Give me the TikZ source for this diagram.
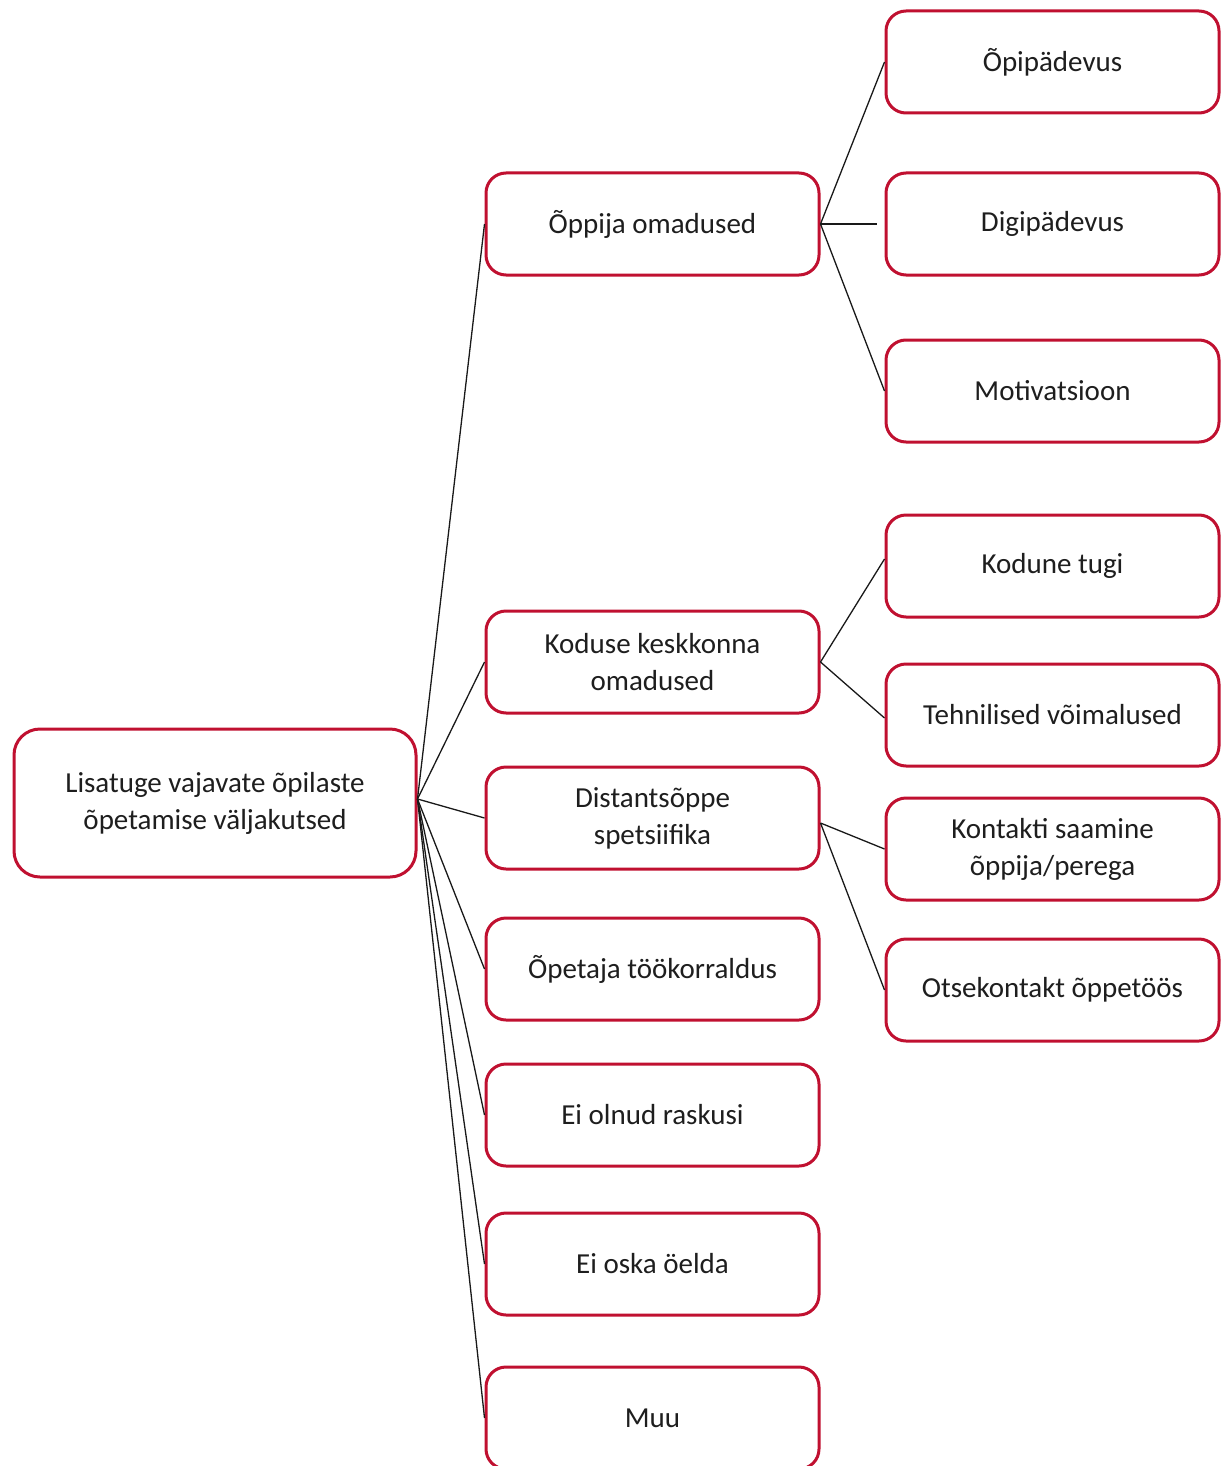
\documentclass[tikz,border=0pt]{standalone}
\usepackage{fontspec}
\setmainfont{Carlito}
\definecolor{boxred}{RGB}{192,16,48}
\definecolor{inktext}{RGB}{30,30,30}
\begin{document}
\begin{tikzpicture}[x=1pt,y=-1pt,
  box/.style={draw=boxred, line width=3pt, rounded corners=20pt, fill=white,
    minimum width=333pt, minimum height=102pt, align=center,
    font=\fontsize{29}{37}\selectfont, text=inktext, inner sep=0pt},
  rootbox/.style={box, minimum width=402pt, minimum height=148pt, rounded corners=26pt},
  link/.style={draw=black!90, line width=1.3pt}]
\useasboundingbox (0,0) rectangle (1224,1466);
% root
\node[rootbox] (root) at (215,803) {Lisatuge vajavate õpilaste\\õpetamise väljakutsed};
% middle column
\node[box] (m1) at (652.5,224) {Õppija omadused};
\node[box] (m2) at (652.5,662) {Koduse keskkonna\\omadused};
\node[box] (m3) at (652.5,818) {Distantsõppe\\spetsiifika};
\node[box] (m4) at (652.5,969) {Õpetaja töökorraldus};
\node[box] (m5) at (652.5,1115) {Ei olnud raskusi};
\node[box] (m6) at (652.5,1264) {Ei oska öelda};
\node[box] (m7) at (652.5,1418) {Muu};
% right column
\node[box] (r1) at (1052.5,62) {Õpipädevus};
\node[box] (r2) at (1052.5,224) {Digipädevus};
\node[box] (r3) at (1052.5,391) {Motivatsioon};
\node[box] (r4) at (1052.5,566) {Kodune tugi};
\node[box] (r5) at (1052.5,715) {Tehnilised võimalused};
\node[box] (r6) at (1052.5,849) {Kontakti saamine\\õppija/perega};
\node[box] (r7) at (1052.5,990) {Otsekontakt õppetöös};
% connectors from the root
\coordinate (hub) at ([yshift=4pt]root.east);
\foreach \m in {m1,m2,m3,m4,m5,m6,m7}
  \draw[link] (hub) -- (\m.west);
% connectors to the right column
\draw[link] (m1.east) -- (r1.west);
\draw[link, shorten >=8pt] (m1.east) -- (r2.west);
\draw[link] (m1.east) -- (r3.west);
\draw[link] (m2.east) -- ([yshift=7pt]r4.west);
\draw[link] (m2.east) -- ([yshift=-3pt]r5.west);
\draw[link] ([yshift=-5pt]m3.east) -- (r6.west);
\draw[link] ([yshift=-5pt]m3.east) -- (r7.west);
\end{tikzpicture}
\end{document}
